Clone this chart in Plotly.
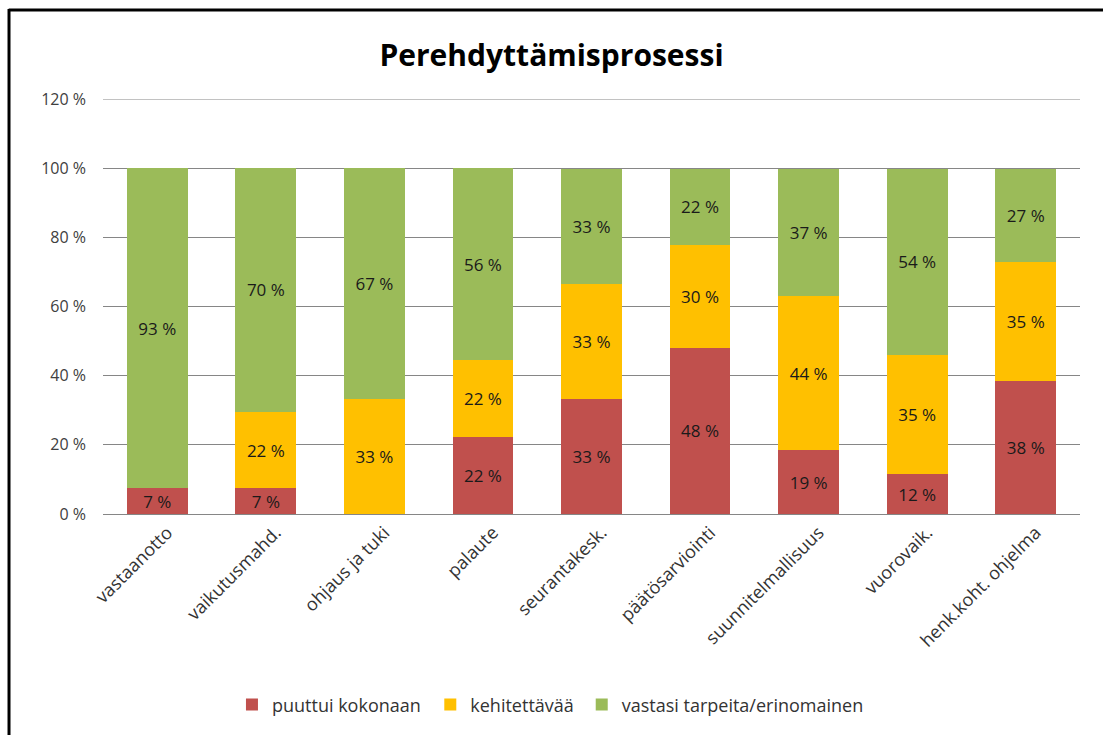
import plotly.graph_objects as go

categories = ["vastaanotto", "vaikutusmahd.", "ohjaus ja tuki", "palaute", "seurantakesk.",
              "päätösarviointi", "suunnitelmallisuus", "vuorovaik.", "henk.koht. ohjelma"]
puuttui = [7.4, 7.4, 0.0, 22.2, 33.3, 48.1, 18.5, 11.5, 38.4]
kehitettava = [0.0, 22.2, 33.3, 22.2, 33.3, 29.6, 44.4, 34.6, 34.6]
vastasi = [92.6, 70.4, 66.7, 55.6, 33.3, 22.2, 37.0, 53.8, 26.9]
series_names = ["puuttui kokonaan", "kehitettävää", "vastasi tarpeita/erinomainen"]
colors = ["#C0504D", "#FFC000", "#9BBB59"]
y_ticks = [0, 20, 40, 60, 80, 100, 120]
y_ticklabels = [f"{v} %" for v in y_ticks]

FONT = "'Open Sans', 'Noto Sans', sans-serif"
legend_ids = ["legend", "legend2", "legend3"]
legend_x = [0.132, 0.335, 0.490]

fig = go.Figure()
for name, vals, col, lid in zip(series_names, [puuttui, kehitettava, vastasi], colors, legend_ids):
    texts = [f"{int(v + 0.5)} %" if v > 0 else "" for v in vals]
    fig.add_trace(go.Bar(
        x=categories, y=vals, name=name, legend=lid,
        marker=dict(color=col, line=dict(width=0)),
        text=texts, textposition="inside", insidetextanchor="middle",
        textfont=dict(family=FONT, size=17, color="#1a1a1a"),
        textangle=0, constraintext="none", cliponaxis=False,
    ))

legend_common = dict(orientation="h", xanchor="left", y=-0.46, yanchor="middle",
                     font=dict(family=FONT, size=18, color="#333333"),
                     itemwidth=30, bgcolor="rgba(0,0,0,0)", borderwidth=0)

fig.update_layout(
    width=1103, height=735,
    barmode="stack", bargap=0.44,
    paper_bgcolor="white", plot_bgcolor="white",
    margin=dict(l=103, r=23, t=99, b=221),
    title=dict(text="<b>Perehdyttämisprosessi</b>", x=0.5, xanchor="center", y=0.925, yanchor="middle",
               font=dict(family=FONT, size=30, color="black")),
    font=dict(family=FONT, size=16, color="#404040"),
    showlegend=True,
    legend=dict(x=legend_x[0], **legend_common),
    legend2=dict(x=legend_x[1], **legend_common),
    legend3=dict(x=legend_x[2], **legend_common),
    xaxis=dict(tickangle=-45, showgrid=False, showline=True, linecolor="#868686", linewidth=1,
               ticks="", ticklabelshift=10,
               tickfont=dict(family=FONT, size=18, color="#333333")),
    yaxis=dict(range=[0, 120], tickvals=y_ticks, ticktext=y_ticklabels, showgrid=True,
               gridcolor="#868686", gridwidth=1, zeroline=False, showline=False, ticks="",
               ticklabelstandoff=16, tickfont=dict(family=FONT, size=16, color="#404040")),
    shapes=[
        dict(type="line", xref="paper", yref="y", x0=0, x1=1, y0=120, y1=120,
             line=dict(color="#868686", width=1), layer="below"),
        dict(type="line", xref="paper", yref="paper", x0=-0.0965, x1=1.03, y0=1.2145, y1=1.2145,
             line=dict(color="black", width=3)),
        dict(type="line", xref="paper", yref="paper", x0=-0.0962, x1=-0.0962, y0=1.217, y1=-0.54,
             line=dict(color="black", width=3)),
    ],
)

fig.write_html("out.html")
